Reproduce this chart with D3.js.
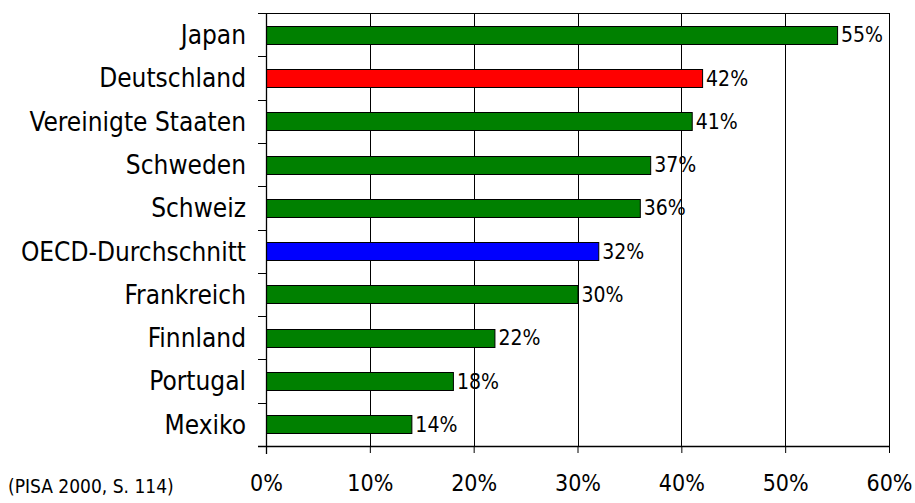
<!DOCTYPE html>
<html><head><meta charset="utf-8">
<script src="https://cdn.jsdelivr.net/npm/d3@7"></script>
<style>body{margin:0;background:#fff}svg{display:block}</style>
</head><body>
<svg id="chart" width="915" height="503"></svg>
<script>
const categories = ["Japan","Deutschland","Vereinigte Staaten","Schweden","Schweiz","OECD-Durchschnitt","Frankreich","Finnland","Portugal","Mexiko"];
const values = [55,42,41,37,36,32,30,22,18,14];
const barColors = ["#008000","#FF0000","#008000","#008000","#008000","#0000FF","#008000","#008000","#008000","#008000"];
const xTicks = [0,10,20,30,40,50,60];
const source = "(PISA 2000, S. 114)";

const svg = d3.select("#chart");
const L = 266, R = 889, T = 13, B = 446;
const font = "'DejaVu Sans Condensed','DejaVu Sans',sans-serif";

const x = d3.scaleLinear().domain([0,60]).range([L,R]);
const y = d3.scaleBand().domain(categories).range([T,B]).paddingInner(0.585).paddingOuter(0.2925);
const step = y.step();

// gridlines
svg.append("g").selectAll("line").data(xTicks.slice(1)).join("line")
  .attr("x1", d => Math.round(x(d)) + 0.5).attr("x2", d => Math.round(x(d)) + 0.5)
  .attr("y1", T).attr("y2", B)
  .attr("stroke", "#000").attr("stroke-width", 1);
// top border
svg.append("line").attr("x1", L).attr("x2", Math.round(R)+1).attr("y1", T+0.5).attr("y2", T+0.5)
  .attr("stroke", "#000").attr("stroke-width", 1);

// bars
svg.append("g").selectAll("rect").data(categories).join("rect")
  .attr("x", x(0) + 0.5)
  .attr("y", d => Math.round(y(d)) + 0.5)
  .attr("width", (d,i) => x(values[i]) - x(0))
  .attr("height", Math.round(y.bandwidth()))
  .attr("fill", (d,i) => barColors[i])
  .attr("stroke", "#000").attr("stroke-width", 1);

// value labels
svg.append("g").selectAll("text").data(categories).join("text")
  .attr("x", (d,i) => x(values[i]) + 4)
  .attr("y", d => y(d) + y.bandwidth()/2)
  .attr("dy", "0.36em")
  .attr("font-family", font).attr("font-size", 21).attr("fill", "#000")
  .text((d,i) => values[i] + "%");

// left axis line and category ticks
svg.append("line").attr("x1", L+0.5).attr("x2", L+0.5).attr("y1", T).attr("y2", B+8)
  .attr("stroke", "#000").attr("stroke-width", 1.3);
svg.append("g").selectAll("line").data(d3.range(categories.length + 1)).join("line")
  .attr("x1", L - 8).attr("x2", L)
  .attr("y1", i => Math.round(T + i*step) + 0.5).attr("y2", i => Math.round(T + i*step) + 0.5)
  .attr("stroke", "#000").attr("stroke-width", 1);

// category labels
svg.append("g").selectAll("text").data(categories).join("text")
  .attr("x", 246)
  .attr("y", d => y(d) + y.bandwidth()/2)
  .attr("dy", "0.36em")
  .attr("text-anchor", "end")
  .attr("font-family", font).attr("font-size", 26).attr("fill", "#000")
  .text(d => d);

// bottom axis
const xAxis = d3.axisBottom(x).tickValues(xTicks).tickFormat(d => d + "%").tickSize(7).tickPadding(22);
const gx = svg.append("g").attr("transform", `translate(0,${B})`).call(xAxis);
gx.select(".domain").attr("d", `M${L-8},0.5H${R+1}`).attr("stroke", "#000").attr("stroke-width", 1.3);
gx.selectAll(".tick line").attr("stroke", "#000");
gx.selectAll(".tick text").attr("font-family", font).attr("font-size", 23).attr("fill", "#000");

// source
svg.append("text").attr("x", 8).attr("y", 493)
  .attr("font-family", font).attr("font-size", 19).attr("fill", "#000")
  .text(source);
</script>
</body></html>
